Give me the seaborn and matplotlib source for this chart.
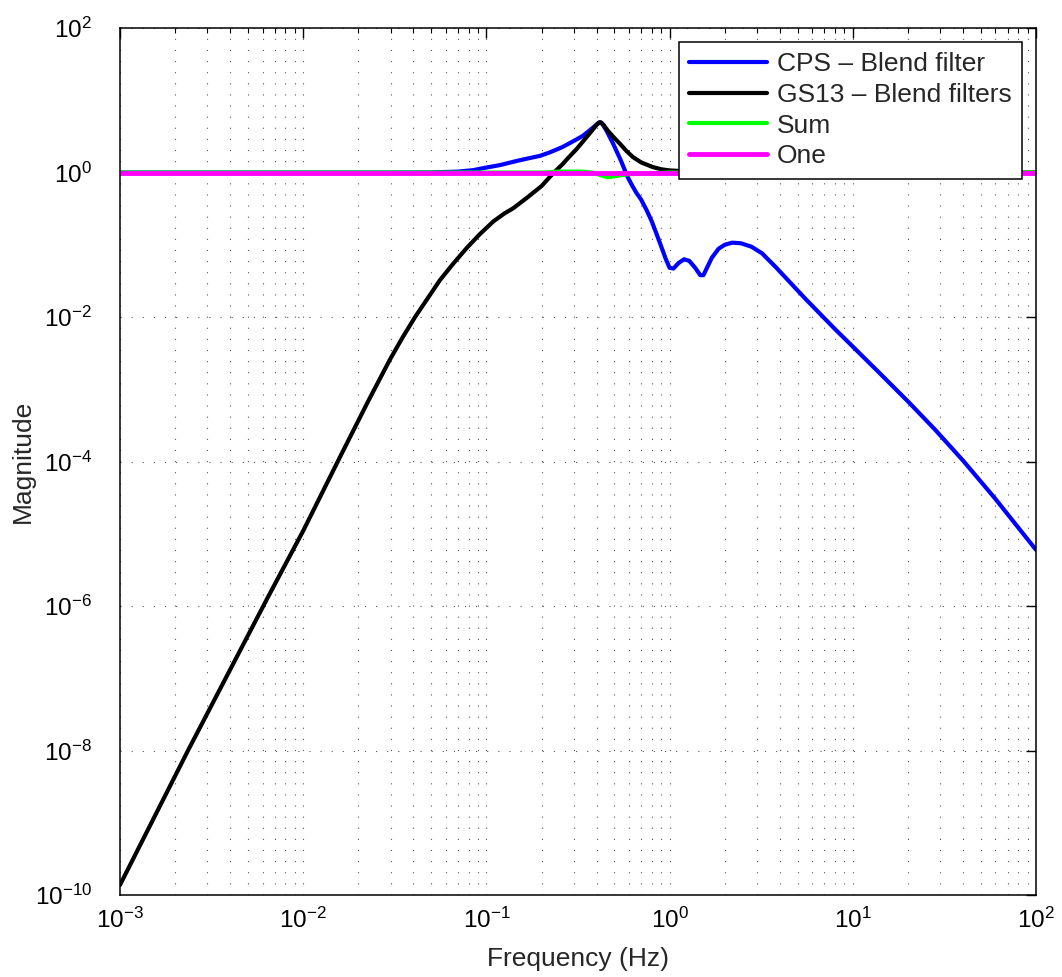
import matplotlib
matplotlib.use('Agg')
import matplotlib.pyplot as plt
import seaborn as sns
from matplotlib.ticker import NullLocator, NullFormatter, LogLocator

# values (log-log Bode magnitude)
freq_cps = [1e-3, 0.01, 0.03, 0.05, 0.07, 0.085, 0.096, 0.119, 0.147, 0.175, 0.196,
            0.222, 0.26, 0.297, 0.335, 0.368, 0.395, 0.41, 0.425, 0.45, 0.49, 0.54,
            0.59, 0.625, 0.66, 0.7, 0.75, 0.8, 0.85, 0.9, 0.95, 1.0, 1.05, 1.12,
            1.2, 1.28, 1.38, 1.47, 1.53, 1.6, 1.7, 1.85, 2.0, 2.2, 2.45, 2.8, 3.2,
            3.8, 4.5, 5.5, 6.6, 8, 10, 14, 20, 28, 40, 60, 100]
mag_cps = [1.0, 1.0, 1.0, 1.005, 1.03, 1.08, 1.15, 1.27, 1.45, 1.6, 1.70,
           1.9, 2.25, 2.7, 3.2, 3.87, 4.5, 4.9, 4.9, 3.9, 2.56, 1.5,
           0.87, 0.66, 0.52, 0.42, 0.30, 0.21, 0.14, 0.095, 0.065, 0.048, 0.047, 0.056,
           0.063, 0.06, 0.048, 0.038, 0.038, 0.048, 0.066, 0.088, 0.1, 0.107, 0.105, 0.094, 0.076,
           0.049, 0.031, 0.018, 0.0112, 0.0068, 0.0039, 1.68e-3, 6.8e-4, 2.8e-4, 1.03e-4, 3.05e-5, 6.0e-6]

freq_gs13 = [1e-3, 0.00235, 0.00634, 0.01, 0.016, 0.0226, 0.0298, 0.035, 0.0408, 0.0558,
             0.066, 0.078, 0.092, 0.109, 0.125, 0.14, 0.167, 0.2, 0.231, 0.26,
             0.28, 0.31, 0.337, 0.36, 0.38, 0.40, 0.417, 0.435, 0.46, 0.5, 0.536,
             0.58, 0.63, 0.7, 0.81, 0.9, 1.0, 1.3, 2.0, 100]
mag_gs13 = [1.38e-10, 1.0e-8, 1.25e-6, 1.1e-5, 1.2e-4, 6.8e-4, 2.6e-3, 5.3e-3, 0.01, 0.0325,
            0.055, 0.09, 0.14, 0.21, 0.27, 0.32, 0.45, 0.65, 0.97, 1.3,
            1.6, 2.1, 2.7, 3.3, 3.9, 4.6, 5.0, 4.6, 3.8, 3.0, 2.5,
            2.0, 1.64, 1.38, 1.19, 1.11, 1.07, 1.03, 1.01, 1.0]

freq_sum = [1e-3, 0.2, 0.25, 0.33, 0.38, 0.42, 0.46, 0.52, 0.6, 0.8, 1.0, 100]
mag_sum = [1.0, 1.0, 1.03, 1.03, 1.0, 0.92, 0.86, 0.9, 0.95, 0.98, 1.0, 1.0]

freq_one = [1e-3, 100]
mag_one = [1.0, 1.0]

x_ticks = [1e-3, 1e-2, 1e-1, 1e0, 1e1, 1e2]
y_ticks = [1e-10, 1e-8, 1e-6, 1e-4, 1e-2, 1e0, 1e2]

sns.set_style('white')
plt.rcParams['font.family'] = ['Liberation Sans', 'DejaVu Sans']
plt.rcParams['mathtext.fontset'] = 'custom'
plt.rcParams['mathtext.rm'] = 'Liberation Sans'
plt.rcParams['mathtext.it'] = 'Liberation Sans:italic'

fig, ax = plt.subplots(figsize=(10.62, 9.77), dpi=100)
fig.subplots_adjust(left=0.113, right=0.9755, bottom=0.0839, top=0.9713)
ax.set_xscale('log')
ax.set_yscale('log')

sns.lineplot(x=freq_cps, y=mag_cps, color=(0, 0, 1), lw=3, label='CPS – Blend filter',
             ax=ax, sort=False, estimator=None)
sns.lineplot(x=freq_gs13, y=mag_gs13, color='black', lw=3, label='GS13 – Blend filters',
             ax=ax, sort=False, estimator=None)
sns.lineplot(x=freq_sum, y=mag_sum, color=(0, 1, 0), lw=3, label='Sum',
             ax=ax, sort=False, estimator=None)
sns.lineplot(x=freq_one, y=mag_one, color=(1, 0, 1), lw=3.5, label='One',
             ax=ax, sort=False, estimator=None)

ax.set_xlim(1e-3, 1e2)
ax.set_ylim(1e-10, 1e2)
ax.set_xticks(x_ticks)
ax.set_yticks(y_ticks)
ax.xaxis.set_minor_locator(LogLocator(base=10, subs=range(2, 10), numticks=20))
ax.xaxis.set_minor_formatter(NullFormatter())
ax.yaxis.set_minor_locator(NullLocator())

dots = (0, (1, 9))
ax.grid(True, which='major', axis='both', ls=dots, color='0.35', lw=0.8)
ax.grid(True, which='minor', axis='x', ls=dots, color='0.35', lw=0.8)

ax.tick_params(which='both', direction='in', top=True, right=True, colors='black')
ax.tick_params(which='major', length=7, width=1, labelsize=17.5)
ax.tick_params(which='minor', length=3.5, width=0.8)
ax.tick_params(axis='y', which='major', pad=20)
ax.tick_params(axis='x', which='major', pad=9)
for s in ax.spines.values():
    s.set_color('black')
    s.set_linewidth(1.1)

ax.set_xlabel('Frequency (Hz)', fontsize=19, labelpad=10)
ax.set_ylabel('Magnitude', fontsize=19)
ax.yaxis.set_label_coords(-0.093, 0.5)

leg = ax.legend(loc='upper right', fontsize=19, fancybox=False, framealpha=1,
                edgecolor='black', handlelength=2.95, handletextpad=0.38,
                labelspacing=0.25, borderpad=0.4, borderaxespad=0.52)
leg.get_frame().set_linewidth(1.1)

fig.savefig('out.png', dpi=100)
